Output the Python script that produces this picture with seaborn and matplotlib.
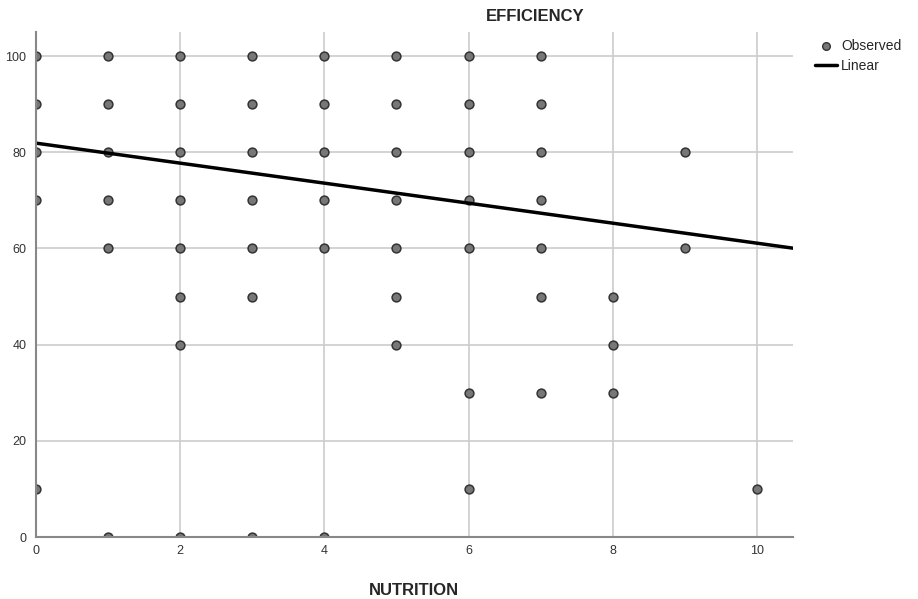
import numpy as np
import pandas as pd
import matplotlib
matplotlib.use('Agg')
import matplotlib.pyplot as plt
from matplotlib.lines import Line2D
import seaborn as sns

# Observed points (NUTRITION, EFFICIENCY)
nutrition = [0, 0, 0, 0, 0,
             1, 1, 1, 1, 1, 1,
             2, 2, 2, 2, 2, 2, 2, 2,
             3, 3, 3, 3, 3, 3, 3,
             4, 4, 4, 4, 4, 4,
             5, 5, 5, 5, 5, 5, 5,
             6, 6, 6, 6, 6, 6, 6,
             7, 7, 7, 7, 7, 7, 7,
             8, 8, 8,
             9, 9,
             10]
efficiency = [100, 90, 80, 70, 10,
              100, 90, 80, 70, 60, 0,
              100, 90, 80, 70, 60, 50, 40, 0,
              100, 90, 80, 70, 60, 50, 0,
              100, 90, 80, 70, 60, 0,
              100, 90, 80, 70, 60, 50, 40,
              100, 90, 80, 70, 60, 30, 10,
              100, 90, 80, 70, 60, 50, 30,
              50, 40, 30,
              80, 60,
              10]

# Linear fit
intercept = 81.9
slope = -2.08
x_range = [0, 10.5]

df = pd.DataFrame({'NUTRITION': nutrition, 'EFFICIENCY': efficiency})
fit = pd.DataFrame({'NUTRITION': x_range})
fit['EFFICIENCY'] = intercept + slope * fit['NUTRITION']

sns.set_style('white')
plt.rcParams['font.family'] = ['Liberation Sans', 'DejaVu Sans']

fig = plt.figure(figsize=(9.18, 5.99), dpi=100)
ax = fig.add_axes([0.0392, 0.1035, 0.8246, 0.843])

sns.scatterplot(data=df, x='NUTRITION', y='EFFICIENCY', ax=ax, s=40,
                color='#777777', edgecolor='#333333', linewidth=1.1,
                zorder=3)
sns.lineplot(data=fit, x='NUTRITION', y='EFFICIENCY', ax=ax,
             color='black', linewidth=2.5, zorder=4)

ax.set_xlim(0, 10.5)
ax.set_ylim(0, 105)
ax.set_xticks([0, 2, 4, 6, 8, 10])
ax.set_yticks([0, 20, 40, 60, 80, 100])
ax.grid(True, color='#cccccc', linewidth=1.2)
ax.set_axisbelow(True)
ax.tick_params(length=0, labelsize=9, colors='#333333')
ax.tick_params(axis='y', pad=7)
ax.tick_params(axis='x', pad=6)
for side in ['top', 'right']:
    ax.spines[side].set_visible(False)
for side in ['left', 'bottom']:
    ax.spines[side].set_color('#888888')
    ax.spines[side].set_linewidth(1.5)
    ax.spines[side].set_zorder(5)
ax.set_xlabel('')
ax.set_ylabel('')

fig.text(0.583, 0.973, 'EFFICIENCY', ha='center', va='center',
         fontsize=12, fontweight='bold')
fig.text(0.451, 0.015, 'NUTRITION', ha='center', va='center',
         fontsize=12, fontweight='bold')

handles = [Line2D([], [], marker='o', linestyle='none', markersize=5.5,
                  markerfacecolor='#777777', markeredgecolor='#333333'),
           Line2D([], [], color='black', linewidth=2.5)]
fig.legend(handles, ['Observed', 'Linear'], loc='upper left',
           bbox_to_anchor=(0.874, 0.955), frameon=False, fontsize=10,
           handlelength=1.6, handletextpad=0.3, labelspacing=0.4)

fig.savefig('out.png', dpi=100)
